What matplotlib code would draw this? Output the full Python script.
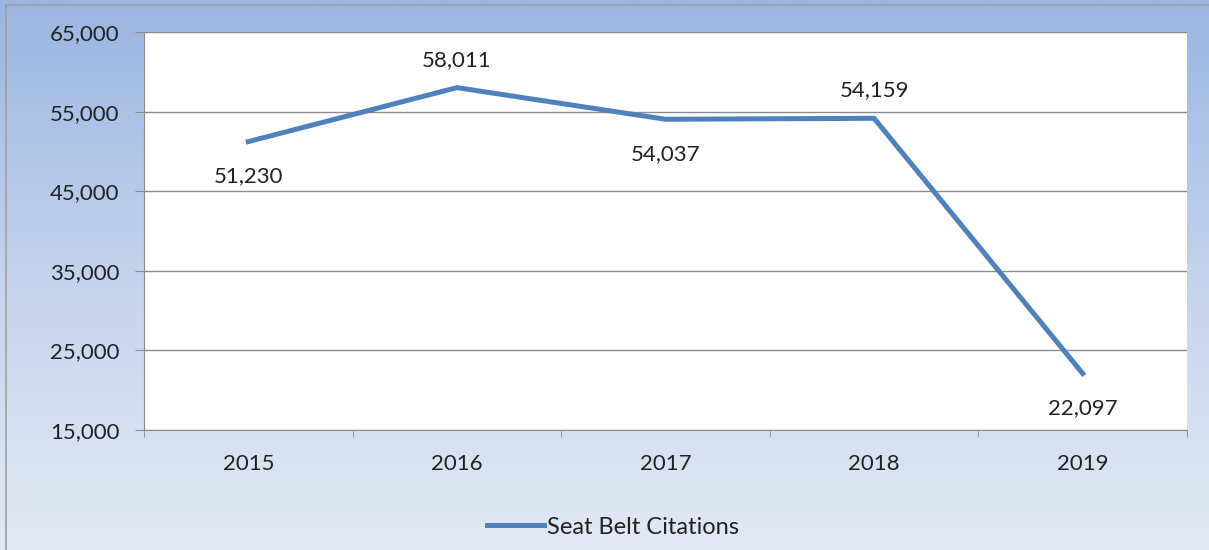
import numpy as np
import matplotlib.pyplot as plt
from matplotlib.colors import LinearSegmentedColormap
from matplotlib.patches import Rectangle

years = ["2015", "2016", "2017", "2018", "2019"]
citations = [51230, 58011, 54037, 54159, 22097]
label_above = [False, True, False, True, False]
y_ticks = [15000, 25000, 35000, 45000, 55000, 65000]

plt.rcParams['font.family'] = ['Lato', 'DejaVu Sans']
W, H = 1209, 550
fig = plt.figure(figsize=(W / 100, H / 100), dpi=100)

# gradient background for the chart area
bg = fig.add_axes([0, 0, 1, 1], zorder=-10)
cmap = LinearSegmentedColormap.from_list("bg", ["#9ab5e1", "#c4d3ed", "#e3e9f4"])
grad = np.linspace(0, 1, 256).reshape(-1, 1)
bg.imshow(grad, aspect="auto", cmap=cmap, extent=[0, 1, 0, 1], origin="upper")
bg.add_patch(Rectangle((6 / W, -0.1), 1.2, 1.1 - 5 / H, fill=False,
                       edgecolor="#a0a0a0", lw=1.2, transform=bg.transAxes))
bg.set_xlim(0, 1)
bg.set_ylim(0, 1)
bg.axis("off")

# plot area
left, right, top, bottom = 144, 1187, 32, 430
ax = fig.add_axes([left / W, 1 - bottom / H, (right - left) / W, (bottom - top) / H])
ax.set_facecolor("white")

fs = 16
x = np.arange(len(years))
ax.plot(x, citations, color="#4f81bd", lw=3.6, solid_joinstyle="miter", zorder=3,
        label="Seat Belt Citations")
for xi, v, up in zip(x, citations, label_above):
    off = 20 if up else -25
    ax.annotate(f"{v:,}", (xi, v), xytext=(0, off), textcoords="offset points",
                ha="center", va="center", fontsize=fs, color="#222222")

ax.set_xlim(-0.5, len(years) - 0.5)
ax.set_ylim(15000, 65000)
ax.set_yticks(y_ticks)
ax.set_yticklabels([f"{t:,}" for t in y_ticks], fontsize=fs, color="#222222")
ax.yaxis.grid(True, color="#8c8c8c", lw=1)
ax.set_axisbelow(True)

ax.set_xticks(x)
ax.set_xticklabels(years, fontsize=fs, color="#222222")
ax.set_xticks(np.arange(-0.5, len(years)), minor=True)
ax.tick_params(axis="x", which="major", length=0, pad=17)
ax.tick_params(axis="x", which="minor", length=5, color="#8c8c8c")
ax.tick_params(axis="y", length=6.5, color="#8c8c8c", pad=11)

for s in ["top", "right"]:
    ax.spines[s].set_visible(False)
for s in ["left", "bottom"]:
    ax.spines[s].set_color("#8c8c8c")

fig.legend(loc="center", bbox_to_anchor=(613 / W, 1 - 527 / H), frameon=False,
           fontsize=17, handlelength=2.4, handletextpad=0.15,
           labelcolor="#222222")

fig.savefig("out.png", dpi=100)
